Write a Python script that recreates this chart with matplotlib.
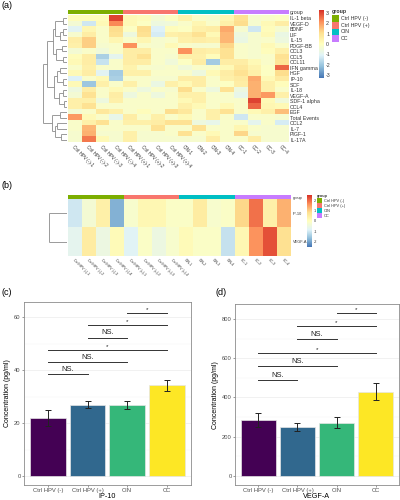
import numpy as np
import matplotlib
matplotlib.use("Agg")
import matplotlib.pyplot as plt
from matplotlib.colors import LinearSegmentedColormap, ListedColormap
from matplotlib.patches import Rectangle

plt.rcParams["font.family"] = ["Liberation Sans", "DejaVu Sans"]
plt.rcParams["axes.unicode_minus"] = False

# ---------------------------------------------------------------- data
GROUPS = ["Ctrl HPV (-)", "Ctrl HPV (+)", "CIN", "CC"]
GROUP_COLORS = ["#7CAE00", "#F8766D", "#00BFC4", "#C77CFF"]
SAMPLES = ([f"Ctrl HPV (-)-{i}" for i in range(1, 5)]
           + [f"Ctrl HPV (+)-{i}" for i in range(1, 5)]
           + [f"CIN-{i}" for i in range(1, 5)]
           + [f"CC-{i}" for i in range(1, 5)])
SAMPLE_GROUP = [0] * 4 + [1] * 4 + [2] * 4 + [3] * 4

ROWS_A = ["IL-1 beta", "VEGF-D", "BDNF", "LIF", "IL-15", "PDGF-BB", "CCL3",
          "CCL5", "CCL11", "IFN gamma", "HGF", "IP-10", "SCF", "IL-18",
          "VEGF-A", "SDF-1 alpha", "CCL4", "EGF", "Total Events", "CCL2",
          "IL-7", "PIGF-1", "IL-17A"]

Z_A = np.array([
    [0.1, 0.1, 0.1, 3.0, 0.2, 0.1, -0.4, -0.1, 0.4, -0.2, -0.3, 0.3, 1.0, -0.3, -0.2, -0.1],
    [-0.4, -1.3, 0.2, 2.2, 0.2, -0.1, -0.6, -0.5, -0.2, 0.3, -0.2, 0.5, 1.1, -0.3, 0.2, 0.6],
    [-1.0, 0.3, -0.2, 1.1, -0.1, 1.1, -1.1, 0.1, -0.1, 0.5, 0.6, 1.8, -0.3, -1.3, 0.1, -0.3],
    [-0.3, 0.6, -0.2, 1.0, -0.6, 1.0, -1.2, 0.5, 0.6, 1.0, 0.2, 1.6, -0.6, -0.3, 0.2, -0.7],
    [0.6, 1.3, -0.2, 0.3, -0.2, 0.3, -0.3, -0.2, 0.5, 0.6, 0.5, 1.6, -0.7, -0.3, -0.2, -0.6],
    [0.5, 1.3, -0.3, -0.2, 2.1, -0.2, -0.3, 0.2, -0.2, -0.3, -0.3, 1.2, -0.2, -0.3, 0.2, -0.2],
    [-0.4, -0.2, -0.5, -0.2, 0.6, 0.6, -0.2, -0.2, 2.1, 0.6, 0.5, 1.0, -0.2, -0.3, 0.1, 0.5],
    [0.1, 0.6, -1.8, -0.9, 0.6, 1.0, -0.2, -0.3, 0.5, 0.5, 0.1, 1.0, -0.2, -0.3, -0.2, 1.0],
    [0.2, 0.6, -1.4, -0.2, 0.6, 0.6, -0.2, -0.5, -0.1, 0.6, -1.9, 0.6, 0.6, 0.2, -0.2, 0.9],
    [-0.2, 0.5, -0.2, -0.2, 0.4, -0.2, -0.3, -0.2, -0.5, -0.2, -0.2, 0.2, 0.8, 0.4, -0.1, 2.6],
    [0.2, 0.6, -1.0, -1.9, 0.5, 0.5, -0.2, -0.2, -0.2, -0.6, 0.2, 0.6, 1.0, 0.5, -0.1, 1.1],
    [-1.1, -0.2, 0.2, -1.8, -0.2, -0.2, -0.3, -0.3, 0.6, 0.6, -0.2, 0.5, 0.7, 1.8, 0.2, 0.7],
    [0.2, -2.0, 0.5, -0.2, 0.5, -0.2, -0.7, 0.5, 0.2, 0.6, -0.2, -0.1, 0.6, 1.7, 0.5, 0.1],
    [-0.6, 0.6, -0.2, 0.2, -0.2, -0.6, -0.2, -0.3, 1.1, -0.2, -0.6, 1.0, -0.6, 1.7, 0.5, -0.2],
    [-0.4, 1.0, -0.2, 0.6, -0.6, -0.2, -0.6, -0.2, 0.5, 0.5, -0.2, -0.2, -0.8, 1.7, 2.0, 0.5],
    [0.5, 0.5, -0.6, 0.5, -0.2, -0.2, -0.2, -0.2, 0.2, 0.5, -0.2, -0.2, -0.2, 3.0, 0.2, -0.5],
    [0.5, 1.0, -0.2, -0.2, -0.2, -0.2, -0.2, -0.2, 0.5, 0.2, -0.2, 0.2, -0.2, 2.6, 0.3, 0.2],
    [-0.4, -0.2, 0.8, 0.5, -0.2, 0.1, -0.2, 1.1, 0.8, -0.2, 0.5, 1.0, -0.2, 0.2, 0.5, 1.5],
    [2.0, 0.2, -0.2, -0.8, 0.6, -0.2, 0.5, -0.2, 0.2, -0.2, 0.5, -0.2, -1.3, -0.2, -0.2, -0.3],
    [-0.2, 0.5, 1.0, -0.2, 0.5, 0.5, 0.6, 1.0, 1.0, -0.6, -0.8, -0.2, -0.2, -0.9, -0.2, -1.2],
    [-0.2, 1.6, -0.2, -0.2, -0.2, -0.2, 1.0, -0.2, -0.2, 1.0, -0.2, -0.2, 0.3, -0.2, -0.3, -0.3],
    [-0.3, 1.7, -0.3, -0.3, 0.5, -0.3, -0.3, -0.2, 1.0, -0.2, 0.2, -0.2, 1.2, -0.3, -0.3, -0.3],
    [-0.3, 2.4, 0.2, -0.3, 0.5, -0.3, -0.3, -0.3, -0.3, -0.3, 0.6, -0.2, -0.2, 0.6, -0.3, -0.3],
])

# row dendrogram of (a): (child, child, height); new node ids start at 23
TREE_A = [
    (0, 1, 0.18), (2, 3, 0.15), (24, 4, 0.30), (23, 25, 0.50),
    (5, 6, 0.20), (7, 8, 0.15), (27, 28, 0.45), (26, 29, 0.60),
    (9, 10, 0.30), (11, 12, 0.15), (31, 32, 0.40), (13, 14, 0.15),
    (15, 16, 0.12), (34, 35, 0.35), (33, 36, 0.55), (30, 37, 0.85),
    (17, 18, 0.30), (19, 20, 0.40), (21, 22, 0.25), (40, 41, 0.50),
    (39, 42, 0.62), (38, 43, 1.00),
]

ROWS_B = ["IP-10", "VEGF-A"]
Z_B = np.array([
    [-1.0, -0.3, 0.4, -1.8, -0.2, 0.2, 0.2, -0.1, -0.1, 0.5, -0.2, -0.1, 0.9, 1.9, 0.4, 1.3],
    [-0.7, 0.5, -0.5, 0.1, -0.8, -0.1, -0.5, -0.2, 0.1, -0.1, -0.1, -1.1, 0.2, 1.6, 2.2, 0.8],
])
TREE_B = [(0, 1, 1.0)]

BAR_COLORS = ["#440154", "#31688E", "#35B779", "#FDE725"]
PAIRS = [(0, 1), (0, 2), (0, 3), (1, 2), (1, 3), (2, 3)]
PAIR_LABELS = ["NS.", "NS.", "*", "NS.", "*", "*"]

IP10_MEAN = [22.0, 27.0, 26.9, 34.3]
IP10_SEM = [3.0, 1.2, 1.4, 2.1]
IP10_BRACKET_Y = [38.4, 43.0, 47.7, 52.3, 57.0, 61.7]

VEGFA_MEAN = [285, 248, 271, 430]
VEGFA_SEM = [36, 19, 29, 43]
VEGFA_BRACKET_Y = [489, 560, 628, 697, 765, 833]

HEAT_CMAP = LinearSegmentedColormap.from_list(
    "rdylbu", ["#4575B4", "#91BFDB", "#E0F3F8", "#FFFFBF", "#FEE090", "#FC8D59", "#D73027"])

W, H = 400, 500
fig = plt.figure(figsize=(W / 100, H / 100), dpi=100)


def box(x0, y0, x1, y1):
    """pixel box (top-left origin) -> figure axes"""
    return fig.add_axes([x0 / W, 1 - y1 / H, (x1 - x0) / W, (y1 - y0) / H])


def draw_dendrogram(ax, merges, n_leaves):
    pos = {i: float(i) for i in range(n_leaves)}
    hgt = {i: 0.0 for i in range(n_leaves)}
    for k, (a, b, h) in enumerate(merges):
        for c in (a, b):
            ax.plot([hgt[c], h], [pos[c], pos[c]], color="#8a8a8a", lw=0.6,
                    solid_capstyle="butt")
        ax.plot([h, h], [pos[a], pos[b]], color="#8a8a8a", lw=0.6,
                solid_capstyle="butt")
        pos[n_leaves + k] = (pos[a] + pos[b]) / 2
        hgt[n_leaves + k] = h
    top = max(m[2] for m in merges)
    ax.set_xlim(top * 1.01, 0)
    ax.set_ylim(n_leaves - 0.5, -0.5)
    ax.axis("off")


def draw_heatmap(hm_box, bar_box, dn_box, cb_box, lg_box, z, rows, tree,
                 vlim, cticks, fs, cfs):
    ax = box(*hm_box)
    im = ax.imshow(z, cmap=HEAT_CMAP, vmin=-vlim, vmax=vlim, aspect="auto",
                   interpolation="nearest")
    ax.set_xticks(range(len(SAMPLES)))
    ax.set_xticklabels(SAMPLES, rotation=-45, ha="left", va="top",
                       rotation_mode="anchor", fontsize=cfs, color="#333333")
    ax.set_yticks(range(len(rows)))
    ax.set_yticklabels(rows, fontsize=fs, color="#333333")
    ax.yaxis.tick_right()
    ax.tick_params(length=0, pad=1.5)
    for s in ax.spines.values():
        s.set_visible(False)

    gb = box(*bar_box)
    gb.imshow([SAMPLE_GROUP], cmap=ListedColormap(GROUP_COLORS), vmin=-0.5,
              vmax=3.5, aspect="auto", interpolation="nearest")
    gb.set_xticks([])
    gb.set_yticks([0])
    gb.set_yticklabels(["group"], fontsize=fs, color="#333333")
    gb.yaxis.tick_right()
    gb.tick_params(length=0, pad=1.5)
    for s in gb.spines.values():
        s.set_visible(False)

    draw_dendrogram(box(*dn_box), tree, len(rows))

    cax = box(*cb_box)
    cb = fig.colorbar(im, cax=cax, ticks=cticks)
    cb.outline.set_visible(False)
    cb.ax.tick_params(labelsize=fs, length=0, pad=1.5, colors="#333333")

    lg = box(*lg_box)
    lg.set_xlim(0, 6)
    lg.set_ylim(len(GROUPS) + 1.0, 0)
    lg.text(0, 0.5, "group", fontsize=fs, fontweight="bold", va="center",
            color="#333333")
    for i, (g, c) in enumerate(zip(GROUPS, GROUP_COLORS)):
        lg.add_patch(Rectangle((0, i + 1), 1, 1, facecolor=c, edgecolor="none"))
        lg.text(1.3, i + 1.5, g, fontsize=fs, va="center", color="#333333")
    lg.axis("off")


# (a) full cytokine heatmap
draw_heatmap((68, 15.5, 288, 142.5), (68, 10, 288, 14.5), (43, 15.5, 67, 142.5),
             (319, 10, 324, 78), (332, 8.5, 372, 42),
             Z_A, ROWS_A, TREE_A, 3.25, [-3, -2, -1, 0, 1, 2, 3], 3.8, 3.3)

# (b) IP-10 / VEGF-A heatmap
draw_heatmap((68, 199, 291, 256), (68, 195, 291, 199), (49, 199, 67, 256),
             (307, 195, 312, 247), (316.5, 193, 350, 218.5),
             Z_B, ROWS_B, TREE_B, 2.5, [-2, -1, 0, 1, 2], 2.8, 2.5)


def draw_bars(ax_box, mean, sem, bracket_y, ylim, yticks, minor, xtitle):
    ax = box(*ax_box)
    x = np.arange(len(GROUPS))
    ax.bar(x, mean, width=0.9, color=BAR_COLORS, edgecolor="#e6e6e6",
           linewidth=0.5, zorder=2)
    ax.errorbar(x, mean, yerr=sem, fmt="none", ecolor="#222222", elinewidth=0.7,
                capsize=2.2, capthick=0.7, zorder=3)
    span = ylim[1] - ylim[0]
    for (i, j), y, lab in zip(PAIRS, bracket_y, PAIR_LABELS):
        ax.plot([i, j], [y, y], color="#333333", lw=0.7, zorder=3)
        ax.text((i + j) / 2, y + span * (0.004 if lab == "*" else 0.006), lab,
                ha="center", va="bottom", fontsize=5.5 if lab == "NS." else 4.5,
                color="#222222")
    ax.set_xlim(-0.6, 3.6)
    ax.set_ylim(*ylim)
    ax.set_yticks(yticks)
    ax.set_yticks(minor, minor=True)
    ax.grid(axis="y", which="major", color="#ebebeb", lw=0.5, zorder=0)
    ax.grid(axis="y", which="minor", color="#f4f4f4", lw=0.3, zorder=0)
    ax.set_axisbelow(True)
    ax.set_xticks(x)
    ax.set_xticklabels(GROUPS)
    ax.tick_params(axis="both", labelsize=4.2, colors="#4d4d4d", length=1.5,
                   width=0.4, pad=1)
    ax.tick_params(axis="y", which="minor", length=0)
    for s in ax.spines.values():
        s.set_color("#8c8c8c")
        s.set_linewidth(0.6)
    ax.set_ylabel("Concentration (pg/ml)", fontsize=5, labelpad=2)
    ax.set_xlabel(xtitle, fontsize=5.2, labelpad=0)


draw_bars((24, 302, 190.7, 485), IP10_MEAN, IP10_SEM, IP10_BRACKET_Y,
          (-3.3, 65.7), [0, 20, 40, 60], [10, 30, 50], "IP-10")
draw_bars((235, 304.3, 399, 485), VEGFA_MEAN, VEGFA_SEM, VEGFA_BRACKET_Y,
          (-47.6, 876), [0, 200, 400, 600, 800], [100, 300, 500, 700], "VEGF-A")

for lab, (px, py) in zip(["(a)", "(b)", "(c)", "(d)"],
                         [(2, 1), (2, 181), (2, 288), (215, 288)]):
    fig.text(px / W, 1 - py / H, lab, fontsize=6.5, va="top", ha="left")

fig.savefig("out.png", dpi=100)
